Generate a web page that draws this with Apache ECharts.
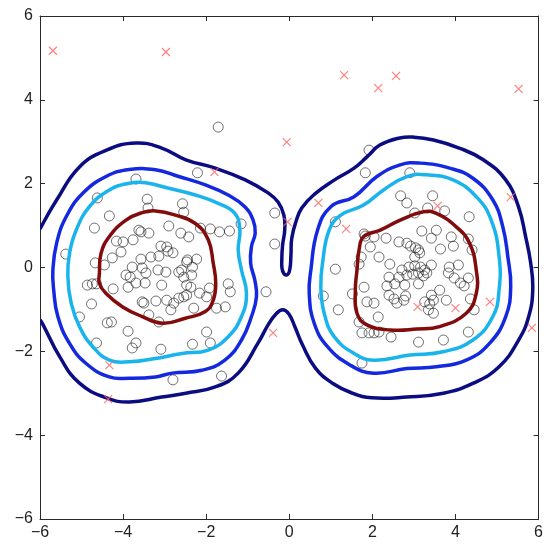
<!DOCTYPE html>
<html>
<head>
<meta charset="utf-8">
<script src="https://cdn.jsdelivr.net/npm/echarts@6/dist/echarts.min.js"></script>
<style>
html,body{margin:0;padding:0;background:#fff;}
#chart{width:546px;height:547px;}
</style>
</head>
<body>
<div id="chart"></div>
<script>
// ---- axis ----
const axisMin = -6, axisMax = 6, axisStep = 2;
const tickValues = [-6, -4, -2, 0, 2, 4, 6];

// ---- data points (circles) ----
const inliersLeft = [
[-1.71,3.35],[-2.21,2.26],[-3.69,2.11],[-4.62,1.66],[-3.42,1.63],[-3.40,1.42],[-2.57,1.52],[-2.54,1.32],
[-4.33,1.23],[-4.69,0.94],[-0.35,1.30],[-0.35,0.56],[-3.62,0.89],[-3.57,0.85],[-3.38,0.82],[-4.16,0.63],
[-4.00,0.61],[-3.76,0.66],[-5.38,0.32],[-4.05,0.37],[-4.26,0.23],[-4.67,0.11],[-4.45,0.06],[-3.57,0.20],
[-3.33,0.25],[-3.14,0.27],[-3.09,0.51],[-2.95,0.49],[-2.92,0.39],[-2.80,0.35],[-2.90,0.99],[-2.61,0.82],
[-2.42,0.73],[-2.14,0.94],[-1.90,0.92],[-1.68,0.85],[-1.44,0.87],[-1.16,1.04],[-3.78,0.01],[-3.54,-0.01],
[-3.93,-0.18],[-3.83,-0.23],[-3.45,-0.13],[-3.16,-0.06],[-2.97,-0.11],[-4.86,-0.42],[-4.74,-0.39],[-4.64,-0.39],
[-4.24,-0.51],[-3.88,-0.47],[-3.69,-0.37],[-3.47,-0.37],[-3.07,-0.42],[-2.45,0.18],[-2.47,0.13],[-2.33,0.01],
[-2.23,0.20],[-2.59,-0.06],[-2.66,-0.11],[-2.54,-0.23],[-2.35,-0.18],[-2.47,-0.42],[-2.37,-0.47],[-2.16,-0.61],
[-1.92,-0.49],[-1.99,-0.70],[-1.47,-0.39],[-1.42,-0.58],[-0.56,-0.58],[-3.54,-0.82],[-3.50,-0.85],[-3.21,-0.80],
[-2.95,-0.78],[-2.78,-0.85],[-2.66,-0.73],[-2.54,-0.70],[-2.47,-0.66],[-4.76,-0.87],[-3.38,-1.13],[-3.14,-1.30],
[-5.05,-1.18],[-4.38,-1.32],[-4.28,-1.30],[-2.85,-1.01],[-2.30,-0.97],[-1.75,-0.97],[-1.54,-0.94],[-3.88,-1.52],
[-1.99,-1.54],[-4.64,-1.80],[-3.69,-1.80],[-3.78,-1.92],[-3.09,-1.95],[-2.33,-1.83],[-1.90,-1.80],[-2.80,-2.68],
[-1.63,-2.59]
];
const inliersRight = [
[1.92,2.80],[1.83,2.26],[2.90,2.26],[2.68,1.71],[2.83,1.54],[3.45,1.71],[1.11,1.09],[3.02,1.30],
[3.33,1.42],[3.74,1.35],[4.33,1.21],[1.80,0.80],[1.83,0.75],[2.04,0.73],[2.33,0.70],[2.64,0.61],
[2.83,0.58],[2.92,0.51],[3.04,0.47],[3.19,0.87],[3.54,0.89],[3.42,0.70],[3.90,0.73],[4.31,0.68],
[3.95,0.51],[1.95,0.49],[2.16,0.25],[1.73,0.25],[1.68,0.08],[3.64,0.44],[4.40,0.42],[3.11,0.42],
[3.14,0.35],[2.42,0.08],[3.02,0.25],[3.02,0.04],[2.88,0.01],[1.11,-0.04],[2.71,-0.06],[2.64,-0.23],
[2.83,-0.18],[2.40,-0.23],[2.97,-0.16],[3.11,-0.13],[3.23,-0.20],[3.31,-0.13],[3.42,0.06],[3.16,0.01],
[3.26,-0.06],[3.85,0.01],[4.07,0.06],[3.83,-0.13],[3.97,-0.25],[4.12,-0.37],[4.21,-0.44],[4.31,-0.25],
[2.35,-0.44],[2.54,-0.39],[2.78,-0.42],[3.11,-0.39],[1.80,-0.47],[1.52,-0.63],[0.82,-0.68],[1.87,-0.82],
[2.04,-0.85],[2.40,-0.66],[2.52,-0.75],[2.59,-0.85],[2.76,-0.78],[2.80,-0.68],[3.62,-0.54],[3.42,-0.66],
[3.26,-0.82],[3.38,-0.87],[3.47,-0.78],[3.35,-1.01],[3.47,-1.09],[3.78,-0.78],[4.36,-0.75],[4.45,-1.01],
[1.18,-1.01],[2.14,-1.18],[1.68,-1.30],[1.75,-1.56],[1.92,-1.56],[2.04,-1.56],[2.16,-1.54],[2.45,-1.66],
[3.11,-1.78],[3.71,-1.73],[4.31,-1.54],[1.75,-2.28]
];
// ---- outliers (crosses) ----
const outliers = [
[-5.69,5.17],[-2.97,5.14],[1.32,4.59],[2.14,4.28],[2.57,4.57],[5.52,4.26],[-0.06,2.99],[-1.80,2.28],
[-0.04,1.09],[0.70,1.54],[1.37,0.92],[-0.39,-1.56],[-4.33,-2.33],[-4.36,-3.14],[3.57,1.47],[5.33,1.68],
[3.09,-0.94],[4.00,-0.97],[4.83,-0.82],[5.84,-1.44]
];

// ---- contour levels ----
const contourOuter = [
[-6.0,0.92],[-5.60,1.61],[-5.05,2.40],[-4.40,2.80],[-3.69,2.97],[-3.07,2.85],[-2.49,2.57],[-1.78,2.37],
[-1.06,2.09],[-0.51,1.78],[-0.27,1.56],[-0.13,1.25],[-0.11,0.89],[-0.16,0.54],[-0.18,0.18],[-0.16,-0.08],
[-0.06,-0.18],[0.01,-0.06],[0.04,0.30],[0.06,0.70],[0.16,1.09],[0.30,1.42],[0.61,1.75],[1.09,2.09],
[1.56,2.37],[1.87,2.64],[2.18,2.92],[2.66,3.09],[3.00,3.11],[3.47,3.04],[4.09,2.85],[4.67,2.57],
[5.21,2.09],[5.52,1.44],[5.69,0.73],[5.81,0.11],[5.86,-0.54],[5.76,-1.18],[5.52,-1.73],[5.05,-2.37],
[4.43,-2.76],[3.71,-3.00],[2.83,-3.09],[1.99,-3.11],[1.52,-3.00],[1.04,-2.76],[0.63,-2.40],[0.32,-1.85],
[0.13,-1.40],[-0.01,-1.11],[-0.16,-1.01],[-0.32,-1.11],[-0.51,-1.37],[-0.75,-1.80],[-1.23,-2.52],[-1.78,-2.85],
[-2.49,-3.00],[-3.07,-3.09],[-3.85,-3.21],[-4.40,-3.11],[-5.05,-2.76],[-5.52,-2.14],[-5.95,-1.32],[-6.0,-1.25]
];
const contourBlueLeft = [
[-5.69,-0.06],[-5.60,0.58],[-5.37,1.21],[-4.97,1.77],[-4.41,2.17],[-3.85,2.34],[-3.22,2.33],[-2.66,2.17],
[-2.02,1.97],[-1.47,1.73],[-1.07,1.45],[-0.87,1.13],[-0.82,0.82],[-0.91,0.50],[-0.93,0.10],[-0.83,-0.30],
[-0.79,-0.70],[-0.91,-1.17],[-1.15,-1.73],[-1.55,-2.21],[-2.10,-2.45],[-2.82,-2.52],[-3.22,-2.61],[-3.85,-2.64],
[-4.33,-2.61],[-4.89,-2.29],[-5.29,-1.81],[-5.57,-1.17],[-5.67,-0.54]
];
const contourCyanLeft = [
[-5.33,-0.22],[-5.29,0.34],[-5.13,0.89],[-4.81,1.45],[-4.33,1.85],[-3.85,2.01],[-3.46,2.02],[-2.90,1.89],
[-2.26,1.73],[-1.71,1.53],[-1.31,1.29],[-1.19,0.89],[-1.23,0.42],[-1.15,-0.06],[-1.03,-0.62],[-1.15,-1.17],
[-1.47,-1.65],[-1.95,-1.97],[-2.58,-2.05],[-3.22,-2.17],[-3.85,-2.25],[-4.33,-2.21],[-4.73,-1.89],[-5.05,-1.41],
[-5.25,-0.85]
];
const contourRedLeft = [
[-4.57,-0.14],[-4.53,0.34],[-4.33,0.74],[-3.93,1.13],[-3.54,1.31],[-3.22,1.35],[-2.74,1.25],[-2.26,1.05],
[-1.95,0.66],[-1.83,0.10],[-1.77,-0.38],[-1.83,-0.78],[-2.02,-1.05],[-2.50,-1.21],[-3.06,-1.33],[-3.54,-1.17],
[-4.01,-0.94],[-4.41,-0.62],[-4.57,-0.38]
];
const contourBlueRight = [
[0.48,-0.62],[0.52,-0.06],[0.68,0.89],[1.00,1.45],[1.56,1.69],[2.11,2.17],[2.67,2.45],[3.15,2.49],
[3.86,2.37],[4.42,2.13],[4.90,1.61],[5.14,0.97],[5.26,0.26],[5.33,-0.46],[5.21,-1.17],[4.82,-1.81],
[4.26,-2.21],[3.54,-2.37],[2.83,-2.41],[2.03,-2.52],[1.47,-2.33],[0.92,-1.89],[0.60,-1.33]
];
const contourCyanRight = [
[0.76,-0.46],[0.80,0.10],[0.96,0.89],[1.24,1.25],[1.79,1.49],[2.27,1.85],[2.83,2.17],[3.31,2.21],
[3.94,2.09],[4.50,1.69],[4.86,1.13],[5.05,0.26],[5.05,-0.54],[4.90,-1.17],[4.42,-1.73],[3.70,-2.01],
[2.91,-2.09],[2.03,-2.21],[1.56,-2.05],[1.08,-1.65],[0.84,-1.09]
];
const contourRedRight = [
[1.63,-0.06],[1.68,0.42],[1.79,0.74],[2.19,0.89],[2.67,1.13],[3.23,1.33],[3.54,1.29],[4.02,0.97],
[4.34,0.58],[4.50,-0.06],[4.50,-0.62],[4.26,-1.09],[3.62,-1.41],[3.07,-1.47],[2.43,-1.49],[1.87,-1.37],
[1.63,-1.09],[1.59,-0.54]
];

const colNavy = '#0c0c82', colBlue = '#1428e0', colCyan = '#1ab4ec', colRed = '#820c0c';

const fmt = v => (v < 0 ? '\u2212' + Math.abs(v) : String(v));

// contour drawn through the cartesian scales (api.coord), as a smooth curve
function contourSeries(points, color, closed) {
  return {
    type: 'custom', coordinateSystem: 'cartesian2d', xAxisIndex: 0, yAxisIndex: 0,
    data: [points[0]], clip: true, silent: true, z: 3,
    renderItem: function (params, api) {
      const pts = points.map(p => api.coord(p));
      return {
        type: closed ? 'polygon' : 'polyline',
        shape: { points: pts, smooth: 0.45 },
        style: { fill: 'none', stroke: color, lineWidth: 3.5, lineJoin: 'round' }
      };
    }
  };
}

const baseAxis = {
  type: 'value', min: axisMin, max: axisMax, interval: axisStep,
  axisLine: { show: true, onZero: false, lineStyle: { color: '#2a2a2a', width: 1 } },
  axisTick: { show: true, inside: true, length: 5, lineStyle: { color: '#2a2a2a' } },
  splitLine: { show: false }
};

const chart = echarts.init(document.getElementById('chart'), null, { renderer: 'canvas' });
chart.setOption({
  animation: false,
  backgroundColor: '#ffffff',
  grid: { left: 40, right: 3, top: 16, bottom: 28 },
  xAxis: [
    Object.assign({}, baseAxis, { position: 'bottom',
      axisLabel: { fontSize: 16, color: '#222', margin: 6, fontFamily: 'Liberation Sans, Arial, sans-serif', formatter: fmt } }),
    Object.assign({}, baseAxis, { position: 'top', axisLabel: { show: false } })
  ],
  yAxis: [
    Object.assign({}, baseAxis, { position: 'left',
      axisLabel: { fontSize: 16, color: '#222', margin: 7, fontFamily: 'Liberation Sans, Arial, sans-serif', formatter: fmt } }),
    Object.assign({}, baseAxis, { position: 'right', axisLabel: { show: false } })
  ],
  series: [
    { type: 'scatter', data: inliersLeft.concat(inliersRight), symbol: 'circle', symbolSize: 10,
      itemStyle: { color: 'rgba(0,0,0,0)', borderColor: 'rgba(20,20,20,0.75)', borderWidth: 1 }, z: 2 },
    contourSeries(contourOuter, colNavy, false),
    contourSeries(contourBlueLeft, colBlue, true),
    contourSeries(contourBlueRight, colBlue, true),
    contourSeries(contourCyanLeft, colCyan, true),
    contourSeries(contourCyanRight, colCyan, true),
    contourSeries(contourRedLeft, colRed, true),
    contourSeries(contourRedRight, colRed, true),
    { type: 'scatter', data: outliers, symbol: 'path://M0,0L10,10M10,0L0,10', symbolSize: 8,
      itemStyle: { color: 'rgba(0,0,0,0)', borderColor: '#ff6060', borderWidth: 1.2 }, z: 4 }
  ]
});
</script>
</body>
</html>
